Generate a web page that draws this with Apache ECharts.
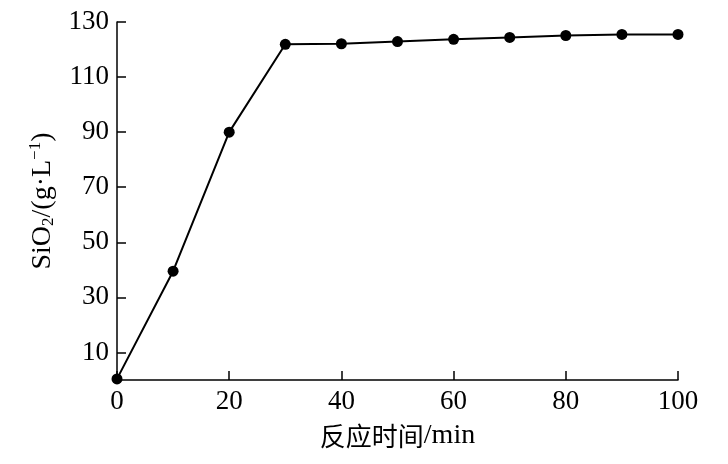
<!DOCTYPE html>
<html>
<head>
<meta charset="utf-8">
<script src="https://cdn.jsdelivr.net/npm/echarts@6/dist/echarts.min.js"></script>
<style>html,body{margin:0;padding:0;background:#fff}#c{width:728px;height:464px}</style>
</head>
<body>
<div id="c"></div>
<script>
var times = [0, 10, 20, 30, 40, 50, 60, 70, 80, 90, 100];
var sio2 = [0.4, 39.5, 90, 121.9, 122.1, 122.9, 123.7, 124.4, 125.1, 125.5, 125.5];
var xTicks = [0, 20, 40, 60, 80, 100];
var yTicks = [10, 30, 50, 70, 90, 110, 130];

var font = '"Liberation Serif", "Times New Roman", serif';
var chart = echarts.init(document.getElementById('c'), null, {renderer: 'canvas'});
chart.setOption({
  animation: false,
  backgroundColor: '#fff',
  grid: {left: 117, right: 50, top: 22, bottom: 84, containLabel: false},
  xAxis: {
    type: 'value', min: 0, max: 100, interval: 20,
    name: '{c|反应时间}{a|/min}', nameLocation: 'middle', nameGap: 42,
    nameTextStyle: {
      color: '#000',
      rich: {
        c: {fontFamily: '"Noto Sans CJK SC", serif', fontSize: 26, color: '#000'},
        a: {fontFamily: font, fontSize: 28, color: '#000'}
      }
    },
    axisLine: {show: true, onZero: false, lineStyle: {color: '#000', width: 1.5}},
    axisTick: {show: true, inside: true, length: 9, customValues: xTicks, lineStyle: {color: '#000', width: 1.5}},
    axisLabel: {customValues: xTicks, fontFamily: font, fontSize: 27, color: '#000', margin: 8},
    splitLine: {show: false}
  },
  yAxis: {
    type: 'value', min: 0, max: 130, interval: 10,
    name: '{a|SiO}{s|2}{a|/(g·L}{p|−1}{a|)}', nameLocation: 'middle', nameGap: 58, nameRotate: 90,
    nameTextStyle: {
      color: '#000',
      rich: {
        a: {fontFamily: font, fontSize: 28, color: '#000'},
        s: {fontFamily: font, fontSize: 17, color: '#000', padding: [12, 0, 0, 0]},
        p: {fontFamily: font, fontSize: 17, color: '#000', padding: [0, 0, 15, 0]}
      }
    },
    axisLine: {show: true, onZero: false, lineStyle: {color: '#000', width: 1.5}},
    axisTick: {show: true, inside: true, length: 9, customValues: yTicks, lineStyle: {color: '#000', width: 1.5}},
    axisLabel: {customValues: yTicks, fontFamily: font, fontSize: 27, color: '#000', margin: 8},
    splitLine: {show: false}
  },
  series: [{
    type: 'line',
    data: times.map(function (t, i) { return [t, sio2[i]]; }),
    symbol: 'circle', symbolSize: 11,
    itemStyle: {color: '#000'},
    lineStyle: {color: '#000', width: 2},
    clip: false
  }]
});
</script>
</body>
</html>
